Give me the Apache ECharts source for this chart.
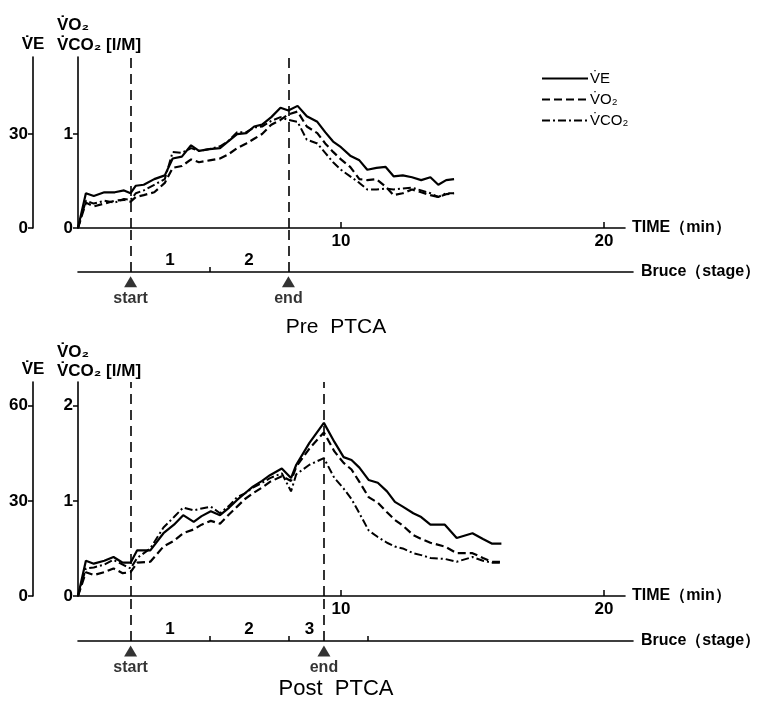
<!DOCTYPE html>
<html>
<head>
<meta charset="utf-8">
<script src="https://cdn.jsdelivr.net/npm/echarts@6/dist/echarts.min.js"></script>
<style>
html, body { margin: 0; background: #fff; }
#chart { width: 765px; height: 701px; }
</style>
</head>
<body>
<div id="chart"></div>
<script>
// ---- Pre PTCA (time in min, VE in l/min, VO2 / VCO2 in l/min)
const preTime = [0, 0.3, 0.6, 1.0, 1.4, 1.75, 2.0, 2.2, 2.5, 2.9, 3.3, 3.6, 3.95, 4.3, 4.6, 5.0, 5.4, 5.7, 6.05, 6.4, 6.7, 7.0, 7.35, 7.7, 8.0, 8.35, 8.7, 9.1, 9.4, 9.7, 10.0, 10.35, 10.7, 11.0, 11.35, 11.7, 12.0, 12.35, 12.7, 13.05, 13.4, 13.7, 14.0, 14.3];
const preVE = [0, 11.1, 10.2, 11.4, 11.4, 12.0, 11.1, 13.5, 13.8, 15.6, 16.8, 22.2, 22.8, 26.4, 24.6, 25.2, 25.5, 27.6, 30.0, 30.3, 32.4, 33.0, 35.4, 38.4, 37.5, 39.0, 35.7, 33.9, 30.6, 27.6, 25.8, 23.1, 21.6, 18.6, 19.2, 19.5, 16.5, 16.8, 16.2, 15.3, 16.2, 13.8, 15.3, 15.6];
const preVO2 = [0, 0.27, 0.23, 0.26, 0.29, 0.30, 0.28, 0.33, 0.35, 0.38, 0.48, 0.64, 0.66, 0.73, 0.70, 0.72, 0.74, 0.78, 0.85, 0.90, 0.95, 1.00, 1.10, 1.15, 1.21, 1.24, 1.08, 1.01, 0.90, 0.81, 0.73, 0.65, 0.52, 0.51, 0.52, 0.44, 0.35, 0.37, 0.41, 0.38, 0.35, 0.33, 0.36, 0.37];
const preVCO2 = [0, 0.29, 0.26, 0.29, 0.27, 0.31, 0.30, 0.37, 0.40, 0.46, 0.52, 0.81, 0.80, 0.85, 0.82, 0.84, 0.87, 0.92, 1.02, 1.02, 1.07, 1.08, 1.14, 1.18, 1.15, 1.13, 0.94, 0.90, 0.80, 0.70, 0.62, 0.55, 0.48, 0.41, 0.41, 0.42, 0.41, 0.42, 0.43, 0.40, 0.37, 0.33, 0.37, 0.37];
const preStart = 2, preEnd = 8;
const preStageTicks = [5];
const preStagePos = [3.5, 6.5];
const preStageNames = ['1', '2'];

// ---- Post PTCA
const postTime = [0, 0.3, 0.6, 1.0, 1.35, 1.7, 2.0, 2.25, 2.75, 3.25, 3.65, 4.0, 4.4, 4.7, 5.05, 5.4, 5.75, 6.05, 6.35, 6.65, 7.0, 7.3, 7.75, 8.1, 8.3, 8.8, 9.35, 9.75, 10.1, 10.4, 10.7, 11.05, 11.4, 11.75, 12.05, 12.35, 12.75, 13.05, 13.4, 13.95, 14.4, 15.0, 15.4, 15.75, 16.1];
const postVE = [0, 11.1, 10.2, 11.1, 12.3, 10.5, 10.5, 14.4, 14.4, 19.8, 22.5, 25.5, 23.4, 25.2, 26.7, 25.5, 27.9, 30.3, 32.4, 34.5, 36.3, 38.1, 40.2, 37.2, 41.4, 48.3, 54.6, 48.6, 43.8, 42.9, 40.5, 36.6, 35.7, 33.0, 29.7, 28.2, 26.1, 24.9, 22.5, 22.5, 18.3, 19.8, 18.0, 16.5, 16.5];
const postVO2 = [0, 0.25, 0.22, 0.25, 0.29, 0.24, 0.25, 0.35, 0.36, 0.52, 0.58, 0.66, 0.70, 0.75, 0.79, 0.76, 0.86, 0.94, 1.02, 1.08, 1.14, 1.20, 1.26, 1.21, 1.36, 1.55, 1.72, 1.52, 1.40, 1.33, 1.20, 1.04, 0.98, 0.88, 0.80, 0.74, 0.64, 0.60, 0.56, 0.52, 0.45, 0.45, 0.40, 0.36, 0.36];
const postVCO2 = [0, 0.29, 0.30, 0.33, 0.38, 0.33, 0.29, 0.40, 0.50, 0.72, 0.83, 0.93, 0.90, 0.92, 0.94, 0.87, 0.95, 1.04, 1.08, 1.14, 1.19, 1.24, 1.29, 1.10, 1.28, 1.38, 1.45, 1.24, 1.13, 1.02, 0.87, 0.69, 0.62, 0.56, 0.52, 0.50, 0.45, 0.43, 0.40, 0.39, 0.36, 0.41, 0.37, 0.35, 0.35];
const postStart = 2, postEnd = 9.35;
const postStageTicks = [5, 8, 11];
const postStagePos = [3.5, 6.5, 8.8];
const postStageNames = ['1', '2', '3'];

const veTicks = [0, 30];      // first panel only shows 0 / 30
const veTicksPost = [0, 30, 60];
const vo2Ticks = [0, 1];
const vo2TicksPost = [0, 1, 2];
const timeTicks = [10, 20];

const NAME_VE = 'V\u0307E', NAME_VO2 = 'V\u0307O\u2082', NAME_VCO2 = 'V\u0307CO\u2082';
const FONT = 'Liberation Sans';
const black = '#000';

const chart = echarts.init(document.getElementById('chart'));

let grid = [], xAxis = [], yAxis = [], series = [];

function pairs(t, v) { return t.map((x, i) => [x, v[i]]); }

function addPanel(p, d) {
  const gMain = p * 2, gBruce = p * 2 + 1;
  grid.push({ left: 78, width: 547, top: d.top, height: d.height });
  grid.push({ left: 78, width: 555, top: d.top + d.height, height: d.bruceH });

  xAxis.push({
    type: 'value', gridIndex: gMain, min: 0, max: 20.8,
    axisLine: { onZero: false, lineStyle: { color: black, width: 1.6 } },
    axisTick: { inside: true, length: 6, customValues: timeTicks, lineStyle: { color: black, width: 1.5 } },
    axisLabel: { customValues: timeTicks, margin: 5, color: black, fontSize: 17, fontWeight: 'bold', fontFamily: FONT },
    splitLine: { show: false },
    name: 'TIME（min）', nameLocation: 'end', nameGap: 7,
    nameTextStyle: { color: black, fontSize: 16, fontWeight: 'bold', fontFamily: FONT, verticalAlign: 'middle' }
  });
  xAxis.push({
    type: 'value', gridIndex: gBruce, min: 0, max: 21.1,
    axisLine: { onZero: false, lineStyle: { color: black, width: 1.6 } },
    axisTick: { inside: true, length: 5, customValues: d.stageTicks, lineStyle: { color: black, width: 1.5 } },
    axisLabel: {
      inside: true, margin: 3, customValues: d.stagePos, color: black, fontSize: 17, fontWeight: 'bold', fontFamily: FONT,
      formatter: v => d.stageNames[d.stagePos.indexOf(v)]
    },
    splitLine: { show: false },
    name: 'Bruce（stage）', nameLocation: 'end', nameGap: 8,
    nameTextStyle: { color: black, fontSize: 16, fontWeight: 'bold', fontFamily: FONT, verticalAlign: 'middle' }
  });

  const vo2Max = d.vo2Max;
  yAxis.push({
    type: 'value', gridIndex: gMain, min: 0, max: vo2Max, position: 'left',
    axisLine: { show: true, onZero: false, lineStyle: { color: black, width: 1.6 } },
    axisTick: { length: 5, customValues: d.vo2Ticks, lineStyle: { color: black, width: 1.5 } },
    axisLabel: { customValues: d.vo2Ticks, margin: 5, color: black, fontSize: 17, fontWeight: 'bold', fontFamily: FONT },
    splitLine: { show: false }
  });
  yAxis.push({
    type: 'value', gridIndex: gMain, min: 0, max: vo2Max * 30, position: 'left', offset: 45,
    axisLine: { show: true, onZero: false, lineStyle: { color: black, width: 1.6 } },
    axisTick: { length: 5, customValues: d.veTicks, lineStyle: { color: black, width: 1.5 } },
    axisLabel: { customValues: d.veTicks, margin: 5, color: black, fontSize: 17, fontWeight: 'bold', fontFamily: FONT },
    splitLine: { show: false },
    name: NAME_VE, nameLocation: 'end', nameGap: 4,
    nameTextStyle: { color: black, fontSize: 17, fontWeight: 'bold', fontFamily: FONT, align: 'center' }
  });
  yAxis.push({ type: 'value', gridIndex: gBruce, min: 0, max: 1, show: false });

  const yV = p * 3, yE = p * 3 + 1, yB = p * 3 + 2;
  const vline = {
    silent: true, symbol: ['none', 'none'], label: { show: false },
    lineStyle: { color: black, width: 1.6, type: [10, 6] },
    data: [{ xAxis: d.start }, { xAxis: d.end }]
  };
  series.push({
    name: NAME_VE, type: 'line', xAxisIndex: gMain, yAxisIndex: yE, symbol: 'none',
    lineStyle: { color: black, width: 2.2, type: 'solid' }, itemStyle: { color: black },
    data: pairs(d.time, d.ve), markLine: vline
  });
  series.push({
    name: NAME_VO2, type: 'line', xAxisIndex: gMain, yAxisIndex: yV, symbol: 'none',
    lineStyle: { color: black, width: 2.2, type: [8, 4] }, itemStyle: { color: black },
    data: pairs(d.time, d.vo2)
  });
  series.push({
    name: NAME_VCO2, type: 'line', xAxisIndex: gMain, yAxisIndex: yV, symbol: 'none',
    lineStyle: { color: black, width: 2, type: [8, 3, 2, 3] }, itemStyle: { color: black },
    data: pairs(d.time, d.vco2)
  });
  series.push({
    type: 'scatter', xAxisIndex: gBruce, yAxisIndex: yB, clip: false, silent: true,
    symbol: 'triangle', symbolSize: [13, 11], itemStyle: { color: black },
    label: {
      show: true, position: 'bottom', distance: 3, color: black, fontSize: 16, fontWeight: 'bold', fontFamily: FONT,
      formatter: pr => pr.dataIndex === 0 ? 'start' : 'end'
    },
    data: [[d.start, -0.22], [d.end, -0.22]],
    markLine: vline
  });
}

addPanel(0, {
  top: 57, height: 171, bruceH: 44, vo2Max: 1.82,
  time: preTime, ve: preVE, vo2: preVO2, vco2: preVCO2,
  start: preStart, end: preEnd, stageTicks: preStageTicks, stagePos: preStagePos, stageNames: preStageNames,
  veTicks: veTicks, vo2Ticks: vo2Ticks
});
addPanel(1, {
  top: 382, height: 214, bruceH: 45, vo2Max: 2.25,
  time: postTime, ve: postVE, vo2: postVO2, vco2: postVCO2,
  start: postStart, end: postEnd, stageTicks: postStageTicks, stagePos: postStagePos, stageNames: postStageNames,
  veTicks: veTicksPost, vo2Ticks: vo2TicksPost
});

function txt(x, y, s, size, weight, align) {
  return {
    type: 'text', x: x, y: y, silent: true,
    style: { text: s, fill: black, font: (weight || 'normal') + ' ' + size + 'px "' + FONT + '"', align: align || 'left', verticalAlign: 'middle' }
  };
}

chart.setOption({
  animation: false,
  backgroundColor: '#fff',
  textStyle: { fontFamily: FONT },
  grid: grid,
  xAxis: xAxis,
  yAxis: yAxis,
  series: series,
  legend: {
    orient: 'vertical', left: 536, top: 66, itemWidth: 46, itemHeight: 14, itemGap: 6,
    data: [NAME_VE, NAME_VO2, NAME_VCO2],
    itemStyle: { opacity: 0 },
    textStyle: { color: black, fontSize: 15, fontFamily: FONT, padding: [0, 0, 0, -3] }
  },
  graphic: [
    txt(57, 25, NAME_VO2, 17, 'bold'),
    txt(57, 45, NAME_VCO2 + ' [l/M]', 17, 'bold'),
    txt(57, 352, NAME_VO2, 17, 'bold'),
    txt(57, 371, NAME_VCO2 + ' [l/M]', 17, 'bold'),
    txt(336, 327, 'Pre  PTCA', 21, '500', 'center'),
    txt(336, 689, 'Post  PTCA', 22, '500', 'center')
  ]
});
</script>
</body>
</html>
